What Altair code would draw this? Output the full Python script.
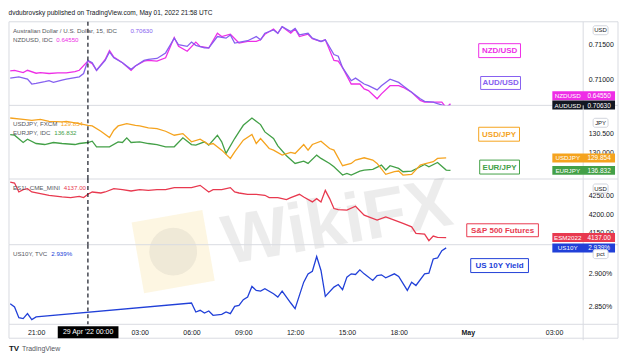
import altair as alt
import pandas as pd

HEADER = "dvdubrovsky published on TradingView.com, May 01, 2022 21:58 UTC"

# time = hours from 29 Apr 2022 00:00 UTC (weekend collapsed, "May" plotted at 22)
aud_t = [-4.5, -4.0, -3.5, -3.25, -3.0, -2.5, -2.25, -2.0, -1.5, -1.25, -0.5, -0.25, 0, 0.25, 0.5,
         1.0, 1.25, 1.5, 2.0, 2.5, 2.75, 3.25, 3.5, 4.0, 4.5, 5.0, 5.25, 5.75, 6.0, 6.25,
         6.75, 7.0, 7.5, 8.0, 8.25, 8.5, 9.25, 9.75, 10.0, 10.25, 10.75, 11.0, 11.25, 11.75, 12.0,
         12.25, 12.75, 13.0, 13.5, 13.75, 14.25, 14.5, 14.75, 15.25, 15.5, 16.0, 16.25, 16.75, 17.0, 17.5,
         18.0, 18.25, 18.75, 19.25, 19.5, 20.0, 20.25, 20.75, 21.0]
aud_v = [0.71014, 0.71033, 0.71000, 0.70930, 0.70939, 0.70963, 0.70977, 0.70953, 0.70986, 0.71000,
         0.71033, 0.71080, 0.71267, 0.71234, 0.71126, 0.71267, 0.71388, 0.71304, 0.71234, 0.71140,
         0.71187, 0.71267, 0.71281, 0.71295, 0.71374, 0.71585, 0.71491, 0.71468, 0.71529, 0.71482,
         0.71445, 0.71445, 0.71608, 0.71585, 0.71632, 0.71515, 0.71548, 0.71608, 0.71562, 0.71655,
         0.71702, 0.71655, 0.71749, 0.71679, 0.71725, 0.71632, 0.71655, 0.71585, 0.71538, 0.71562,
         0.71351, 0.71328, 0.71164, 0.70977, 0.71014, 0.70930, 0.70906, 0.70846, 0.70906, 0.71000,
         0.70953, 0.70906, 0.70813, 0.70719, 0.70682, 0.70672, 0.70649, 0.70612, 0.70630]

nzd_t = [-4.5, -4.25, -3.75, -3.5, -3.0, -2.75, -2.25, -1.75, -1.25, -0.75, -0.5, 0, 0.25, 0.5, 1.0,
         1.25, 1.5, 2.0, 2.5, 2.75, 3.25, 3.5, 4.0, 4.5, 5.0, 5.25, 5.75, 6.25, 6.5, 7.0,
         7.5, 7.75, 8.25, 8.75, 9.25, 9.75, 10.0, 10.25, 10.75, 11.0, 11.25, 11.75, 12.0, 12.25, 12.75,
         13.0, 13.5, 13.75, 14.25, 14.5, 14.75, 15.25, 15.75, 16.0, 16.25, 16.75, 17.0, 17.5, 18.0, 18.25,
         18.75, 19.25, 19.5, 20.0, 20.5, 20.75, 21.0]
nzd_v = [0.65018, 0.65027, 0.64995, 0.65027, 0.64985, 0.64995, 0.64981, 0.64990, 0.64990, 0.65009,
         0.65027, 0.65158, 0.65121, 0.65027, 0.65182, 0.65308, 0.65215, 0.65135, 0.65027, 0.65088,
         0.65158, 0.65168, 0.65158, 0.65205, 0.65495, 0.65369, 0.65299, 0.65430, 0.65369, 0.65346,
         0.65556, 0.65509, 0.65542, 0.65416, 0.65439, 0.65439, 0.65463, 0.65542, 0.65617, 0.65556,
         0.65650, 0.65556, 0.65617, 0.65509, 0.65542, 0.65477, 0.65439, 0.65463, 0.65168, 0.65158,
         0.65065, 0.64831, 0.64831, 0.64761, 0.64737, 0.64620, 0.64690, 0.64807, 0.64807, 0.64784,
         0.64714, 0.64597, 0.64573, 0.64573, 0.64573, 0.64494, 0.64550]

usdjpy_t = [-4.5, -3.75, -3.25, -2.75, -2.25, -1.5, -1.25, -0.5, 0, 0.25, 0.75, 1.25, 1.5, 1.75, 2.25,
            2.75, 3.0, 3.5, 4.0, 4.5, 5.0, 5.5, 6.0, 6.5, 7.0, 7.25, 7.75, 8.25, 8.5, 9.0,
            9.5, 9.75, 10.0, 10.5, 10.75, 11.25, 11.75, 12.0, 12.5, 12.75, 13.0, 13.5, 14.0, 14.25, 14.75,
            15.25, 15.5, 16.0, 16.5, 16.75, 17.25, 17.75, 18.0, 18.25, 18.75, 19.25, 19.5, 20.0, 20.25, 20.75]
usdjpy_v = [130.928, 130.893, 130.866, 130.893, 130.839, 130.821, 130.839, 130.777, 130.732, 130.714,
            130.572, 130.402, 130.599, 130.714, 130.777, 130.732, 130.714, 130.661, 130.643, 130.572,
            130.465, 130.509, 130.287, 130.358, 130.215, 130.242, 130.064, 129.841, 130.019, 130.331,
            130.483, 130.242, 130.376, 130.108, 130.064, 129.930, 130.001, 129.975, 130.215, 130.064,
            130.215, 130.304, 130.108, 130.064, 129.645, 129.707, 129.796, 129.859, 129.796, 129.707,
            129.413, 129.484, 129.502, 129.395, 129.413, 129.663, 129.698, 129.752, 129.841, 129.854]

eurjpy_t = [-4.5, -4.25, -3.75, -3.5, -3.0, -2.5, -2.0, -1.5, -0.75, -0.5, 0, 0.25, 0.5, 1.25, 1.75,
            2.0, 2.25, 2.5, 3.0, 3.5, 4.0, 4.5, 5.0, 5.5, 6.0, 6.25, 6.75, 7.0, 7.5, 7.75,
            8.0, 8.5, 8.75, 9.0, 9.5, 10.0, 10.25, 10.75, 11.0, 11.5, 12.0, 12.5, 12.75, 13.25, 13.5,
            14.0, 14.25, 14.75, 15.0, 15.25, 15.75, 16.0, 16.5, 17.0, 17.25, 17.5, 18.0, 18.25, 18.75, 19.25,
            19.5, 19.75, 20.25, 20.75, 21.0]
eurjpy_v = [137.795, 137.777, 137.581, 137.670, 137.554, 137.527, 137.581, 137.554, 137.527, 137.554,
            137.581, 137.616, 137.465, 137.465, 137.599, 137.581, 137.706, 137.581, 137.599, 137.554,
            137.527, 137.465, 137.465, 137.706, 137.527, 137.509, 137.599, 137.509, 137.777, 137.599,
            137.287, 137.688, 137.866, 138.044, 138.240, 138.062, 137.866, 137.688, 137.492, 137.224,
            137.019, 137.082, 137.019, 137.242, 137.153, 137.019, 136.930, 136.707, 136.752, 136.707,
            136.814, 136.841, 136.859, 136.975, 136.841, 136.957, 136.886, 136.796, 136.814, 136.930,
            136.993, 136.930, 137.046, 136.841, 136.832]

es_t = [-4.5, -4.25, -4.0, -3.75, -3.5, -3.25, -2.75, -2.25, -1.5, -1.0, -0.5, -0.25, 0, 0.25, 0.75,
        1.0, 1.5, 2.0, 2.5, 3.0, 3.5, 4.0, 4.5, 5.0, 5.5, 6.0, 6.5, 7.0, 7.25, 7.75,
        8.25, 8.5, 8.75, 9.25, 9.75, 10.25, 10.5, 11.0, 11.5, 11.75, 12.25, 12.5, 13.0, 13.25, 13.5,
        13.75, 14.0, 14.25, 14.5, 15.0, 15.5, 16.0, 16.75, 17.25, 17.75, 18.25, 18.75, 19.0, 19.5, 19.75,
        20.0, 20.25, 20.75]
es_v = [4287.75, 4285.0, 4260.75, 4267.0, 4269.75, 4260.75, 4256.25, 4251.75, 4247.25, 4245.5,
        4249.0, 4245.5, 4254.5, 4260.75, 4258.0, 4260.75, 4269.75, 4267.0, 4263.5, 4267.0,
        4265.25, 4267.0, 4267.0, 4272.5, 4272.5, 4272.5, 4278.75, 4260.75, 4267.0, 4267.0,
        4272.5, 4260.75, 4258.0, 4254.5, 4254.5, 4251.75, 4245.5, 4245.5, 4240.0, 4245.5,
        4254.5, 4247.25, 4233.75, 4242.75, 4233.75, 4265.25, 4242.75, 4215.75, 4213.0, 4211.25,
        4222.0, 4197.75, 4184.25, 4193.25, 4184.25, 4175.25, 4166.25, 4148.25, 4146.5, 4128.5,
        4141.0, 4137.5, 4137.0]

us10y_t = [-4.5, -4.25, -4.0, -3.75, -3.5, -3.25, -3.0, 6.0, 6.25, 6.5, 6.75, 7.0, 7.25, 7.75, 8.0,
           8.25, 8.5, 8.75, 9.0, 9.25, 9.5, 9.75, 10.0, 10.25, 10.75, 11.0, 11.25, 11.75, 12.0, 12.25,
           12.5, 12.75, 13.0, 13.25, 13.5, 13.75, 14.25, 14.5, 14.75, 15.0, 15.25, 15.5, 15.75, 16.0, 16.5,
           16.75, 17.0, 17.25, 17.75, 18.0, 18.5, 18.75, 19.0, 19.5, 19.75, 20.0, 20.25, 20.5, 20.75]
us10y_v = [2.8540, 2.8490, 2.8328, 2.8313, 2.8389, 2.8298, 2.8339, 2.8551, 2.8414, 2.8440,
           2.8399, 2.8429, 2.8364, 2.8379, 2.8414, 2.8389, 2.8500, 2.8515, 2.8601, 2.8642,
           2.8803, 2.8743, 2.8732, 2.8768, 2.8692, 2.8642, 2.8732, 2.8551, 2.8465, 2.8667,
           2.8869, 2.8995, 2.9035, 2.9258, 2.9046, 2.8652, 2.8793, 2.8833, 2.8753, 2.8945,
           2.8995, 2.8985, 2.9056, 2.8995, 2.8894, 2.8970, 2.8980, 2.8934, 2.8995, 2.8955,
           2.8743, 2.8869, 2.8818, 2.8995, 2.9005, 2.9222, 2.9237, 2.9349, 2.9390]

x_tick_values = [-3, 3, 6, 9, 12, 15, 18, 22, 27]

# ---------------------------------------------------------------- styling
FONT = "Liberation Sans"
W = 577
X_DOM = [-4.571, 28.686]
FRAME = "#d9dbe1"
INK = "#131722"
GREY = "#555861"
C_AUD, C_NZD = "#8660f0", "#ee2ee6"
C_UJ, C_EJ = "#f5a31e", "#43a047"
C_ES, C_US = "#e8394f", "#2140d8"
LEG = 6.2

ONE = pd.DataFrame({"k": [0]})


def X(axis=None):
    return alt.X("t:Q", scale=alt.Scale(domain=X_DOM, nice=False, zero=False), axis=axis)


def Y(dom, axis=None):
    return alt.Y("v:Q", scale=alt.Scale(domain=dom, nice=False, zero=False), axis=axis)


def right_axis(values, fmt=None, expr=None):
    kw = dict(orient="right", values=values, title=None, ticks=False, domain=False, grid=False,
              labelFontSize=7, labelColor=INK, labelPadding=5, labelFont=FONT)
    if expr:
        kw["labelExpr"] = expr
    else:
        kw["format"] = fmt
    return alt.Axis(**kw)


XAXIS = alt.Axis(values=x_tick_values, title=None, ticks=False, domain=False, grid=False,
                 labelFontSize=7, labelColor=INK, labelPadding=4, labelFont=FONT,
                 labelFontWeight={"condition": {"test": "datum.value == 22", "value": "bold"}, "value": "normal"},
                 labelExpr="datum.value == -3 ? '21:00' : datum.value == 22 ? 'May' : datum.value == 27 ? '03:00' : (datum.value < 10 ? '0' : '') + datum.value + ':00'")


def line(t, v, color, dom, yaxis=None, xaxis=None):
    df = pd.DataFrame({"t": t, "v": v})
    return alt.Chart(df).mark_line(color=color, strokeWidth=1.3, clip=True).encode(x=X(xaxis), y=Y(dom, yaxis))


def dash(xaxis=None):
    return alt.Chart(pd.DataFrame({"t": [0]})).mark_rule(color=INK, strokeDash=[4, 3], strokeWidth=1.2).encode(x=X(xaxis))


def rule(x, x2, y, y2, color=FRAME):
    return alt.Chart(ONE).mark_rule(color=color, strokeWidth=1).encode(
        x=alt.value(x), x2=alt.value(x2), y=alt.value(y), y2=alt.value(y2))


def text(x, y, s, color, size=LEG, weight="normal", align="left", **kw):
    return alt.Chart(ONE).mark_text(text=s, color=color, fontSize=size, fontWeight=weight, align=align,
                                    baseline="middle", font=FONT, **kw).encode(x=alt.value(x), y=alt.value(y))


def boxed(x1, x2, y1, y2, s, color):
    box = alt.Chart(ONE).mark_rect(fill="white", stroke=color, strokeWidth=1).encode(
        x=alt.value(x1), x2=alt.value(x2), y=alt.value(y1), y2=alt.value(y2))
    return [box, text((x1 + x2) / 2, (y1 + y2) / 2 + 0.5, s, color, size=8, weight="bold", align="center")]


def unit(y1, s):
    box = alt.Chart(ONE).mark_rect(fill="white", stroke="#d1d4dc", strokeWidth=1, cornerRadius=2).encode(
        x=alt.value(587), x2=alt.value(602), y=alt.value(y1), y2=alt.value(y1 + 9))
    return [box, text(594.5, y1 + 4.7, s, INK, size=6, align="center")]


def tag(value, lab, name, color, dom, dy=0):
    df = pd.DataFrame({"v": [value], "lab": [lab]})
    y = Y(dom)
    bg = alt.Chart(df).mark_rule(color=color, strokeWidth=9, strokeCap="butt", yOffset=dy).encode(
        x=alt.value(546), x2=alt.value(609), y=y)
    t1 = alt.Chart(df).mark_text(color="white", fontSize=6.3, font=FONT, align="center", baseline="middle",
                                 yOffset=dy + 0.5).encode(x=alt.value(561.5), y=y, text=alt.value(name))
    t2 = alt.Chart(df).mark_text(color="white", fontSize=6.5, font=FONT, align="center", baseline="middle",
                                 yOffset=dy + 0.5).encode(x=alt.value(593), y=y, text="lab:N")
    return [bg, t1, t2]


def borders(h, top=False):
    out = [rule(0, 0, 0, h), rule(577, 577, 0, h), rule(612, 612, 0, h), rule(0, 612, h, h)]
    if top:
        out.append(rule(0, 612, 0, 0))
    return out


def watermark():
    logo = alt.Chart(ONE).mark_point(shape="square", size=5200, filled=True, color="#f2c94c",
                                     opacity=0.16, angle=350).encode(x=alt.value(165), y=alt.value(73))
    eagle = alt.Chart(ONE).mark_point(shape="circle", size=2300, filled=True, color="#7a7a7a",
                                      opacity=0.10).encode(x=alt.value(165), y=alt.value(73))
    word = text(330, 45, "WikiFX", "#000000", size=70, weight="bold", align="center", angle=350, opacity=0.07)
    return [logo, eagle, word]


# ---------------------------------------------------------------- pane 1: AUD / NZD
AUD_DOM = [0.70625, 0.71819]
NZD_DOM = [0.64526, 0.65720]
H1 = 84
p1 = alt.layer(
    *borders(H1, top=True),
    line(nzd_t, nzd_v, C_NZD, NZD_DOM),
    line(aud_t, aud_v, C_AUD, AUD_DOM, yaxis=right_axis([0.71, 0.715], ".5f")),
    dash(),
    text(4, 9.3, "Australian Dollar / U.S. Dollar, 15, IDC", GREY),
    text(122, 9.3, "0.70630", C_AUD),
    text(4, 18.3, "NZDUSD, IDC", GREY),
    text(47.5, 18.3, "0.64550", C_NZD),
    *boxed(472, 514, 22, 36, "NZD/USD", C_NZD),
    *boxed(474, 514, 55, 68, "AUD/USD", C_AUD),
    *unit(4, "USD"),
    *tag(nzd_v[-1], "0.64550", "NZDUSD", C_NZD, NZD_DOM, dy=-8),
    *tag(aud_v[-1], "0.70630", "AUDUSD", INK, AUD_DOM),
).resolve_scale(y="independent").properties(width=W, height=H1)

# ---------------------------------------------------------------- pane 2: USDJPY / EURJPY
UJ_DOM = [129.288, 131.267]
EJ_DOM = [136.600, 138.579]
H2 = 74
p2 = alt.layer(
    *borders(H2),
    line(eurjpy_t, eurjpy_v, C_EJ, EJ_DOM),
    line(usdjpy_t, usdjpy_v, C_UJ, UJ_DOM, yaxis=right_axis([130.0, 130.5], ".3f")),
    dash(),
    text(4, 18.5, "USDJPY, FXCM", GREY),
    text(52, 18.5, "129.854", C_UJ),
    text(4, 27.5, "EURJPY, IDC", GREY),
    text(45.5, 27.5, "136.832", C_EJ),
    *boxed(472, 513, 22, 36, "USD/JPY", C_UJ),
    *boxed(473, 513, 55, 69, "EUR/JPY", C_EJ),
    *unit(13, "JPY"),
    *tag(usdjpy_v[-1], "129.854", "USDJPY", C_UJ, UJ_DOM),
    *tag(eurjpy_v[-1], "136.832", "EURJPY", C_EJ, EJ_DOM),
).resolve_scale(y="independent").properties(width=W, height=H2)

# ---------------------------------------------------------------- pane 3: ES
ES_DOM = [4117.6, 4296.0]
H3 = 66
p3 = alt.layer(
    *watermark(),
    *borders(H3),
    line(es_t, es_v, C_ES, ES_DOM, yaxis=right_axis([4150, 4200, 4250], ".2f")),
    dash(),
    text(4, 9.3, "ES1!, CME_MINI", GREY),
    text(55, 9.3, "4137.00", C_ES),
    *boxed(460, 532, 45, 58, "S&P 500 Futures", C_ES),
    *unit(5, "USD"),
    *tag(es_v[-1], "4137.00", "ESM2022", C_ES, ES_DOM),
).resolve_scale(y="independent").properties(width=W, height=H3)

# ---------------------------------------------------------------- pane 4: US10Y + time axis
US_DOM = [2.8227, 2.9439]
H4 = 80
p4 = alt.layer(
    *borders(H4),
    rule(0, 612, H4 + 14, H4 + 14),
    rule(0, 0, H4, H4 + 14),
    rule(577, 577, H4, H4 + 16),
    rule(612, 612, H4, H4 + 14),
    line(us10y_t, us10y_v, C_US, US_DOM,
         yaxis=right_axis([2.85, 2.90], expr="format(datum.value, '.3f') + '%'"), xaxis=XAXIS),
    dash(xaxis=XAXIS),
    text(4, 9.3, "US10Y, TVC", GREY),
    text(42.5, 9.3, "2.939%", C_US),
    *boxed(464, 522, 14, 28, "US 10Y Yield", C_US),
    *tag(us10y_v[-1], "2.939%", "US10Y", C_US, US_DOM),
    *unit(5, "pct"),
    alt.Chart(ONE).mark_rect(fill="black").encode(
        x=alt.value(49), x2=alt.value(110), y=alt.value(H4 + 2), y2=alt.value(H4 + 14)),
    text(79.5, H4 + 8, "29 Apr '22   00:00", "white", size=7, align="center"),
    text(0, H4 + 25, "TV", INK, size=8, weight="bold"),
    text(13, H4 + 25, "TradingView", GREY, size=7),
).resolve_scale(y="independent").properties(width=W, height=H4)

chart = alt.vconcat(
    p1, p2, p3, p4, spacing=0, bounds="flush",
    title=alt.TitleParams(HEADER, anchor="start", fontSize=6.6, font=FONT, color=INK,
                          fontWeight="normal", offset=5),
).properties(padding=0).configure_view(stroke=None)

chart.save("out.html", embed_options={"renderer": "svg", "actions": False})
